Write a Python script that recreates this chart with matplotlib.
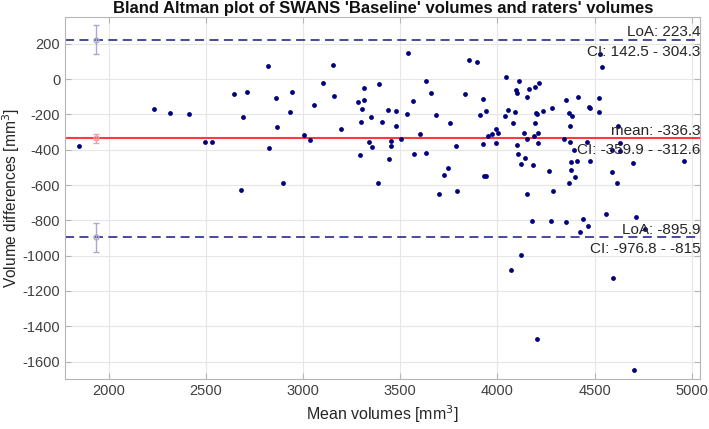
import numpy as np
import matplotlib
matplotlib.use("Agg")
from matplotlib import pyplot as plt

plt.rcParams['font.family'] = ['Liberation Sans', 'DejaVu Sans']
plt.rcParams['axes.unicode_minus'] = False

mean_vol = [1850, 2235, 2317, 2416, 2497, 2531, 2647, 2682, 2693, 2713,
            2819, 2825, 2861, 2866, 2897, 2932, 2945, 3003, 3038, 3057,
            3105, 3156, 3161, 3194, 3283, 3295, 3300, 3303, 3315, 3315,
            3339, 3348, 3353, 3387, 3390, 3408, 3437, 3445, 3453, 3453,
            3479, 3479, 3505, 3536, 3541, 3565, 3572, 3604, 3633, 3635,
            3659, 3685, 3700, 3723, 3746, 3754, 3788, 3791, 3836, 3855,
            3897, 3909, 3926, 3928, 3932, 3942, 3943, 3952, 3972, 3995,
            3995, 4003, 4037, 4044, 4053, 4070, 4082, 4092, 4096, 4101,
            4103, 4108, 4111, 4120, 4120, 4135, 4140, 4153, 4154, 4155,
            4164, 4176, 4182, 4190, 4193, 4195, 4197, 4203, 4205, 4207,
            4209, 4212, 4233, 4268, 4277, 4281, 4287, 4341, 4351, 4351,
            4371, 4371, 4373, 4375, 4380, 4380, 4383, 4396, 4402, 4411,
            4416, 4426, 4443, 4462, 4464, 4469, 4475, 4477, 4525, 4525,
            4529, 4538, 4561, 4589, 4591, 4596, 4618, 4623, 4630, 4632,
            4700, 4702, 4715, 4760, 4960]
vol_diff = [-378, -169, -193, -195, -358, -359, -83, -628, -215, -73,
            73, -390, -108, -273, -588, -188, -73, -314, -346, -144,
            -20, 82, -97, -284, -127, -431, -244, -167, -50, -118,
            -354, -212, -382, -588, -29, -242, -176, -454, -352, -377,
            -180, -263, -339, -199, 150, -122, -424, -309, -416, -12,
            -78, -203, -649, -541, -505, -250, -380, -632, -82, 109,
            94, -205, -365, -112, -550, -548, -182, -320, -309, -280,
            -363, -303, -208, 11, -176, -1083, -246, -184, -59, -76,
            -373, -422, -10, -479, -998, -303, -445, -649, -337, -103,
            -55, -805, -486, -324, -248, -42, -193, -197, -1474, -303,
            -360, -22, -178, -522, -803, -161, -635, -339, -118, -807,
            -193, -590, -265, -354, -471, -513, -208, -401, -552, -465,
            -99, -864, -792, -358, -830, -157, -462, -165, -105, -186,
            140, 67, -762, -401, -526, -1126, -588, -265, -360, -410,
            -477, -1649, -781, -850, -465]

mean_diff = -336.3
mean_ci = (-359.9, -312.6)
loa_upper = 223.4
loa_upper_ci = (142.5, 304.3)
loa_lower = -895.9
loa_lower_ci = (-976.8, -815)
ci_x = 1937

fig = plt.figure(figsize=(7.09, 4.29), dpi=100)
ax = fig.add_axes([0.0917, 0.116, 0.8963, 0.8437])

xlim = (1776, 5045)
ylim = (-1700, 350)

navy = '#00007f'
dash_col = '#3a3a96'
red = '#ff3a3a'

ax.scatter(mean_vol, vol_diff, s=12, color=navy, zorder=3, linewidths=0)

ax.axhline(loa_upper, color=dash_col, ls=(0, (5, 3)), lw=1.3, zorder=2)
ax.axhline(loa_lower, color=dash_col, ls=(0, (5, 3)), lw=1.3, zorder=2)
ax.axhline(mean_diff, color=red, lw=1.5, zorder=2)

# confidence intervals drawn as error bars on the left
for val, ci, col in [(loa_upper, loa_upper_ci, '#a9a9cf'),
                     (mean_diff, mean_ci, '#f2a0a0'),
                     (loa_lower, loa_lower_ci, '#a9a9cf')]:
    ax.errorbar([ci_x], [val], yerr=[[val - ci[0]], [ci[1] - val]],
                fmt='o', ms=3.5, mfc='none', mec=col, ecolor=col,
                elinewidth=1, capsize=2.5, capthick=1, zorder=2.5)

fs = 11
txt_col = '#262626'
up, dn = 4, -28
ax.text(xlim[1], loa_upper + up, f'LoA: {loa_upper}', ha='right', va='bottom', fontsize=fs, color=txt_col)
ax.text(xlim[1], loa_upper + dn, f'CI: {loa_upper_ci[0]} - {loa_upper_ci[1]}', ha='right', va='top', fontsize=fs, color=txt_col)
ax.text(xlim[1], mean_diff + up, f'mean: {mean_diff}', ha='right', va='bottom', fontsize=fs, color=txt_col)
ax.text(xlim[1], mean_diff + dn, f'CI: {mean_ci[0]} - {mean_ci[1]}', ha='right', va='top', fontsize=fs, color=txt_col)
ax.text(xlim[1], loa_lower + up, f'LoA: {loa_lower}', ha='right', va='bottom', fontsize=fs, color=txt_col)
ax.text(xlim[1], loa_lower + dn, f'CI: {loa_lower_ci[0]} - {loa_lower_ci[1]:g}', ha='right', va='top', fontsize=fs, color=txt_col)

ax.set_xlim(xlim)
ax.set_ylim(ylim)
ax.set_xticks(np.arange(2000, 5001, 500))
ax.set_yticks(np.arange(-1600, 201, 200))
ax.grid(True, color='#e6e6e6', lw=0.8)
ax.set_axisbelow(True)
for sp in ax.spines.values():
    sp.set_color('#b5b5b5')
ax.tick_params(direction='in', length=4, color='#b5b5b5', labelcolor='#404040',
               labelsize=10.5, top=True, right=True)

ax.set_xlabel('Mean volumes [mm$^3$]', fontsize=11.5, color='#262626')
ax.set_ylabel('Volume differences [mm$^3$]', fontsize=11.2, color='#262626', labelpad=0.5)
ax.set_title("Bland Altman plot of SWANS 'Baseline' volumes and raters' volumes",
             fontsize=12, fontweight='bold', color='#111111', pad=3)

fig.savefig('out.png', dpi=100)
